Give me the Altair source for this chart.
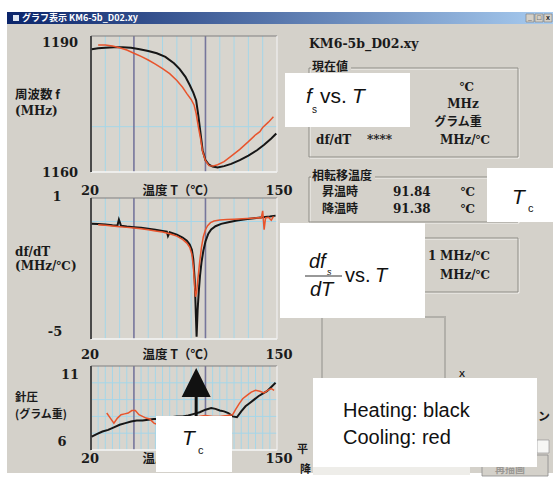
import altair as alt
import pandas as pd

W, H = 556, 477
T_MIN, T_MAX = 20, 150

# ---- resonance frequency f (MHz) against temperature T (deg C) ----
f_heat_T = [20.5, 25, 30, 36, 42, 48, 54, 60, 66, 72, 78, 82, 86, 89, 91.5, 93.5,
            95, 96.5, 98, 100, 102.5, 105, 108.5, 113, 118, 124, 130, 136, 141, 146, 149.5]
f_heat = [1187.1, 1187.3, 1187.4, 1187.5, 1187.5, 1187.4, 1187.1, 1186.7, 1186.2, 1185.4,
          1184.0, 1182.7, 1181.0, 1179.2, 1177.5, 1175.8, 1172.5, 1168.7, 1164.8, 1162.6,
          1161.6, 1161.2, 1161.0, 1161.3, 1161.8, 1162.6, 1163.6, 1164.8, 1166.0, 1167.4, 1168.5]
f_cool_T = [25, 30, 35, 40, 45, 50, 55, 60, 65, 70, 75, 80, 84, 87, 90, 92, 93.5, 95,
            96.5, 98, 100, 102.5, 105, 108.5, 113, 118, 124, 130, 135, 138, 140, 144, 147.5]
f_cool = [1188.0, 1188.0, 1187.8, 1187.4, 1186.9, 1186.2, 1185.5, 1184.7, 1183.8, 1182.8,
          1181.7, 1180.2, 1178.7, 1177.3, 1176.0, 1174.8, 1172.9, 1170.0, 1167.5, 1164.5,
          1162.5, 1161.4, 1161.3, 1161.6, 1162.3, 1163.5, 1165.0, 1166.7, 1168.2, 1168.9,
          1169.8, 1171.0, 1172.2]

# ---- df/dT (MHz/deg C) ----
d_heat_T = [20.5, 25, 30, 35, 38.5, 39.5, 41, 45, 50, 55, 60, 65, 70, 73, 73.8, 75, 80, 84,
            87, 89, 90.5, 91.5, 92.5, 93.2, 93.8, 94.5, 95.3, 96.2, 97.2, 98.5, 100, 102,
            104, 107, 111, 116, 122, 128, 134, 140, 145, 149]
d_heat = [-0.10, -0.11, -0.13, -0.16, -0.17, 0.08, -0.18, -0.21, -0.24, -0.27, -0.31, -0.35,
          -0.40, -0.43, -0.62, -0.46, -0.56, -0.68, -0.82, -0.98, -1.2, -1.6, -2.5, -3.8,
          -4.9, -3.8, -3.0, -2.3, -1.75, -1.25, -0.85, -0.52, -0.34, -0.20, -0.10, -0.03,
          0.04, 0.10, 0.14, 0.18, 0.21, 0.25]
d_cool_T = [25, 30, 35, 40, 45, 50, 55, 60, 65, 70, 75, 80, 84, 87, 89, 90.5, 91.5, 92.3,
            93, 93.8, 94.8, 96, 97.2, 98.5, 100, 101.5, 103.5, 106, 110, 115, 120, 126,
            132, 137, 139, 140, 141, 142, 144, 146, 147.5]
d_cool = [-0.14, -0.16, -0.19, -0.22, -0.25, -0.28, -0.31, -0.35, -0.40, -0.45, -0.52,
          -0.62, -0.76, -0.92, -1.1, -1.4, -1.9, -2.6, -3.2, -3.0, -2.4, -1.7, -1.1, -0.65,
          -0.35, -0.18, -0.05, 0.02, 0.06, 0.08, 0.10, 0.12, 0.14, 0.16, 0.15, 0.45, -0.35,
          0.15, 0.18, 0.05, 0.22]

# ---- needle pressure (gram-force) ----
p_heat_T = [20.5, 24, 28, 32, 36, 40, 44, 48, 52, 56, 60, 64, 68, 72, 76, 80, 84, 88, 92,
            96, 100, 104, 107, 110, 113, 116, 119, 122, 125, 128, 131, 134, 137, 140, 143,
            146, 149]
p_heat = [6.8, 6.95, 7.1, 7.2, 7.35, 7.5, 7.6, 7.7, 7.75, 7.75, 7.8, 7.85, 7.85, 7.9, 7.95,
          8.0, 8.0, 8.05, 8.15, 8.25, 8.4, 8.5, 8.45, 8.35, 8.3, 8.2, 8.0, 7.95, 8.3, 8.6,
          8.8, 9.0, 9.2, 9.35, 9.5, 9.75, 10.0]
p_cool_T = [31, 33.5, 36, 38.5, 41, 43.5, 46, 48.5, 51, 53.5, 56, 58.5, 61, 64, 67, 71, 75,
            80, 85, 90, 95, 100, 105, 110, 115, 119, 121, 123.5, 126, 129, 132, 135, 138,
            141, 143.5, 146, 148]
p_cool = [8.2, 7.9, 7.6, 7.9, 8.1, 8.15, 8.2, 8.35, 8.35, 8.1, 8.0, 7.9, 7.85, 7.6, 7.5,
          7.7, 7.8, 7.85, 7.9, 7.95, 8.0, 8.05, 8.0, 8.0, 8.05, 8.1, 8.4, 8.75, 9.05, 9.25,
          9.45, 9.55, 9.5, 9.4, 9.55, 9.65, 9.55]

# ---- axis labels ----
f_ticks = [1190, 1160]
d_ticks = [1, -5]
p_ticks = [11, 6]
t_ticks = [20, 150]

# phase transition temperatures (heating / cooling) and Tc marker
tc_heat = "91.84"
tc_cool = "91.38"
tc_mark_T = 93.5

# ---- styling ----
WIN = "#d4d1ca"
PLOT_BG = "#d8d5ce"
GRID = "#a6d6e8"
GRID_DARK = "#76769c"
BLACK = "#161616"
RED = "#e8542c"
SERIF = "DejaVu Serif, Noto Sans CJK JP"
JP = "Noto Sans CJK JP"
SANS = "Liberation Sans"

one = pd.DataFrame({"k": [0]})


def rect(x, y, x2, y2, **style):
    return alt.Chart(one).mark_rect(**style).encode(
        x=alt.value(x), x2=alt.value(x2), y=alt.value(y), y2=alt.value(y2))


def hline(x, x2, y, color, w=1):
    return alt.Chart(one).mark_rule(color=color, strokeWidth=w).encode(
        x=alt.value(x), x2=alt.value(x2), y=alt.value(y))


def vline(x, y, y2, color, w=1):
    return alt.Chart(one).mark_rule(color=color, strokeWidth=w).encode(
        x=alt.value(x), y=alt.value(y), y2=alt.value(y2))


def text(s, x, y, size=12, font=SERIF, color="#1a1a1a", weight="bold",
         align="left", baseline="middle", style=None):
    kw = dict(text=s, fontSize=size, font=font, color=color, fontWeight=weight,
              align=align, baseline=baseline)
    if style:
        kw["fontStyle"] = style
    return alt.Chart(one).mark_text(**kw).encode(x=alt.value(x), y=alt.value(y))


def group_box(x, y, x2, y2, title=None, title_w=0):
    parts = [
        rect(x + 1, y + 1, x2 + 1, y2 + 1, fillOpacity=0, stroke="#f4f3f0", strokeWidth=1),
        rect(x, y, x2, y2, fillOpacity=0, stroke="#8e8c86", strokeWidth=1),
    ]
    if title:
        parts.append(rect(x + 2, y - 5, x + 4 + title_w, y + 5, fill=WIN))
        parts.append(text(title, x + 3, y - 1, size=12, font=JP))
    return parts


def panel(x0, x1, y0, y1, ydom, heat_T, heat_v, cool_T, cool_v,
          vgrid, hgrid, ticks, tick_style, xlab_y):
    xs = alt.Scale(domain=[T_MIN, T_MAX], range=[x0, x1], nice=False, zero=False)
    ys = alt.Scale(domain=ydom, range=[y1, y0], nice=False, zero=False)
    X = lambda f: alt.X(f, scale=xs, axis=None)
    Y = lambda f: alt.Y(f, scale=ys, axis=None)
    layers = [rect(x0, y0, x1, y1, fill=PLOT_BG)]

    light = [t for t in vgrid if t not in (50, 100)]
    layers.append(alt.Chart(pd.DataFrame({"T": light})).mark_rule(
        color=GRID, strokeWidth=1).encode(x=X("T:Q"), y=alt.value(y0), y2=alt.value(y1)))
    layers.append(alt.Chart(pd.DataFrame({"v": hgrid})).mark_rule(
        color=GRID, strokeWidth=1).encode(y=Y("v:Q"), x=alt.value(x0), x2=alt.value(x1)))
    layers.append(alt.Chart(pd.DataFrame({"T": [50, 100]})).mark_rule(
        color=GRID_DARK, strokeWidth=1.6).encode(x=X("T:Q"), y=alt.value(y0), y2=alt.value(y1)))

    # sunken frame
    layers += [hline(x0, x1, y0, "#808080", 1.2), hline(x0, x1, y1, "#f6f6f6", 1.5),
               vline(x1, y0, y1, "#f0f0f0", 1.2), vline(x0, y0, y1, "#4a4a4a", 2)]

    heat = pd.DataFrame({"T": heat_T, "v": heat_v})
    cool = pd.DataFrame({"T": cool_T, "v": cool_v})
    layers.append(alt.Chart(heat).mark_line(color=BLACK, strokeWidth=2.0).encode(
        x=X("T:Q"), y=Y("v:Q")))
    layers.append(alt.Chart(cool).mark_line(color=RED, strokeWidth=1.5).encode(
        x=X("T:Q"), y=Y("v:Q")))

    # value labels of the y axis
    for val, (lx, dy) in zip(ticks, tick_style):
        layers.append(alt.Chart(pd.DataFrame({"v": [val], "s": [str(val)]})).mark_text(
            font=SERIF, fontSize=13, fontWeight="bold", color="#1a1a1a", dy=dy,
            align="center", baseline="middle").encode(
            y=Y("v:Q"), x=alt.value(lx), text="s:N"))
    # temperature labels of the x axis
    for val, dx in zip(t_ticks, (-1, 2)):
        layers.append(alt.Chart(pd.DataFrame({"T": [val], "s": [str(val)]})).mark_text(
            font=SERIF, fontSize=13, fontWeight="bold", color="#1a1a1a", dx=dx,
            align="center", baseline="middle").encode(
            x=X("T:Q"), y=alt.value(xlab_y), text="s:N"))
    layers.append(text("温度 T（℃）", 179, xlab_y, size=12.5, font=JP, align="center"))
    return layers, xs, ys


# ---- window chrome ----
chrome = [
    rect(7, 12, 553, 473, fill=WIN),
    rect(7, 12, 553, 24, color={"gradient": "linear", "x1": 0, "x2": 1, "y1": 0, "y2": 0,
                                 "stops": [{"offset": 0, "color": "#0a246a"},
                                           {"offset": 1, "color": "#a8ccf0"}]}),
    rect(13, 15, 19, 21, fill="#dfe6f2"),
    text("グラフ表示 KM6-5b_D02.xy", 22, 18, size=9, font=JP, color="#ffffff"),
]
for bx, glyph in ((526, "_"), (535, "□"), (544, "x")):
    chrome.append(rect(bx, 14, bx + 8, 22, fill="#d4d0c8", stroke="#7a7a7a", strokeWidth=0.6))
    chrome.append(text(glyph, bx + 4, 18, size=7, font=SANS, align="center"))

chrome += [
    text("周波数 f", 15, 95, size=12.5, font=JP),
    text("(MHz)", 15, 111, size=12),
    text("df/dT", 15, 252, size=12),
    text("(MHz/℃)", 15, 266, size=12),
    text("針圧", 15, 398, size=11.5, font=JP),
    text("(グラム重)", 15, 415, size=11, font=JP),
    text("KM6-5b_D02.xy", 309, 44, size=12.5),
]
chrome += group_box(309, 68, 518, 157, "現在値", 38)
chrome += [
    text("℃", 467, 87, size=12, align="center"),
    text("MHz", 463, 104, size=12, align="center"),
    text("グラム重", 458, 122, size=12, font=JP, align="center"),
    text("df/dT", 316, 140, size=12),
    text("****", 367, 140, size=12),
    text("MHz/℃", 465, 140, size=12, align="center"),
]
chrome += group_box(309, 177, 518, 222, "相転移温度", 62)
chrome += [
    text("昇温時", 322, 192, size=12, font=JP),
    text(tc_heat, 393, 192, size=12),
    text("℃", 468, 192, size=12, align="center"),
    text("降温時", 322, 209, size=12, font=JP),
    text(tc_cool, 393, 209, size=12),
    text("℃", 468, 209, size=12, align="center"),
]
chrome += group_box(309, 238, 518, 292)
chrome += [
    text("1", 428, 256, size=12),
    text("MHz/℃", 465, 256, size=12, align="center"),
    text("MHz/℃", 465, 275, size=12, align="center"),
    rect(322, 317, 445, 470, fillOpacity=0, stroke="#b2b0aa", strokeWidth=2),
    text("X", 459, 374, size=9, font=SANS),
    text("ン", 544, 417, size=12, font=JP, align="center"),
    text("平", 297, 450, size=11, font=JP),
    rect(537, 440, 549, 453, fill="#f6f6f4", stroke="#8a8a8a", strokeWidth=0.6),
    rect(482, 455, 548, 476, fill=WIN, stroke="#8a8a8a", strokeWidth=0.8),
    text("再描画", 510, 470, size=10, font=JP, color="#9a9894", align="center"),
    rect(313, 466, 470, 475, fill="#eeede9"),
    text("降", 300, 470, size=11, font=JP),
]

# ---- the three panels ----
p1, _, _ = panel(91, 277, 36, 172, [1160, 1190], f_heat_T, f_heat, f_cool_T, f_cool,
                 list(range(30, 150, 10)), [1170], f_ticks, [(60, 7), (60, 1)], 191)
p2, _, _ = panel(91, 277, 198, 339, [-5, 1], d_heat_T, d_heat, d_cool_T, d_cool,
                 list(range(30, 150, 10)), [0], d_ticks, [(57, -1), (55, -7)], 355)
p3, xs3, _ = panel(91, 277, 366, 450, [6, 11], p_heat_T, p_heat, p_cool_T, p_cool,
                   list(range(25, 150, 5)), [7, 8, 9, 10], p_ticks, [(70, 9), (62, -8)], 459)

# Tc arrow pointing up from the pressure panel
arrow = pd.DataFrame({"T": [tc_mark_T]})
p3.append(alt.Chart(arrow).mark_rule(color="#111111", strokeWidth=3).encode(
    x=alt.X("T:Q", scale=xs3, axis=None), y=alt.value(390), y2=alt.value(430)))
p3.append(alt.Chart(arrow).mark_point(shape="M0,-1L1,1L-1,1Z", size=841, filled=True,
                                      color="#111111", opacity=1).encode(
    x=alt.X("T:Q", scale=xs3, axis=None), y=alt.value(382.5)))

# ---- annotation boxes ----
ITAL = dict(font=SANS, weight="normal", color="#111111")
notes = [
    rect(285, 73, 410, 127, fill="#ffffff"),
    text("f", 306, 97, size=21, style="italic", **ITAL),
    text("s", 312, 110, size=10, **ITAL),
    text("vs.", 320, 97, size=21, **ITAL),
    text("T", 352, 97, size=21, style="italic", **ITAL),

    rect(280, 223, 425, 318, fill="#ffffff"),
    text("df", 309, 262, size=20, style="italic", **ITAL),
    text("s", 327, 272, size=9, style="italic", **ITAL),
    hline(305, 342, 276, "#333333", 1.2),
    text("dT", 310, 290, size=20, style="italic", **ITAL),
    text("vs.", 345, 276, size=20, **ITAL),
    text("T", 375, 276, size=20, style="italic", **ITAL),

    rect(487, 168, 556, 222, fill="#ffffff"),
    text("T", 512, 198, size=21, style="italic", **ITAL),
    text("c", 528, 209, size=11, **ITAL),

    rect(156, 416, 232, 472, fill="#ffffff"),
    text("T", 182, 439, size=21, style="italic", **ITAL),
    text("c", 198, 451, size=11, **ITAL),

    rect(313, 378, 537, 467, fill="#ffffff"),
    text("Heating: black", 343, 411, size=20, **ITAL),
    text("Cooling: red", 343, 438, size=20, **ITAL),
]

chart = alt.layer(
    *chrome, alt.layer(*p1), alt.layer(*p2), alt.layer(*p3), *notes
).resolve_scale(
    x="independent", y="independent"
).properties(
    width=W, height=H, padding=0, autosize="none", background="white"
).configure_view(stroke=None)

chart.save("out.html", embed_options={"renderer": "svg", "actions": False})
